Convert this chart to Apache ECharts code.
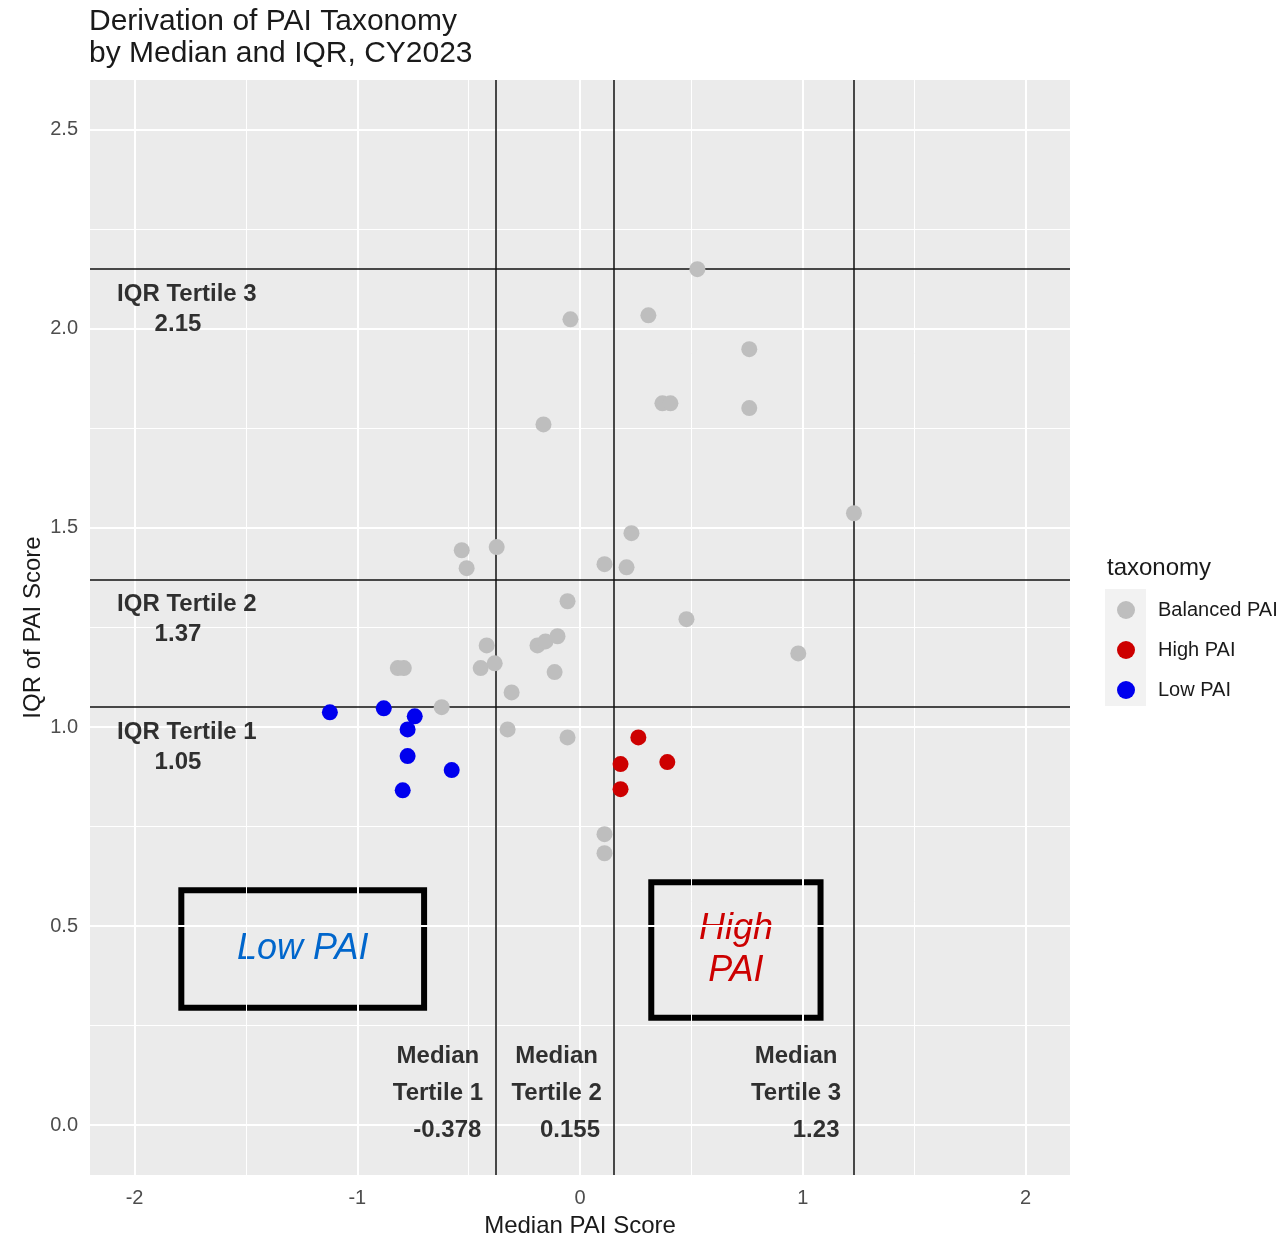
<!DOCTYPE html>
<html>
<head>
<meta charset="utf-8">
<title>Derivation of PAI Taxonomy</title>
<script src="https://cdn.jsdelivr.net/npm/echarts@6/dist/echarts.min.js"></script>
<style>
  html, body { margin: 0; padding: 0; background: #ffffff; overflow: hidden; }
  #chart { width: 1286px; height: 1238px; }
</style>
</head>
<body>
<div id="chart"></div>
<script>
// ---- data ----
const taxonomy = ['Balanced PAI', 'High PAI', 'Low PAI'];

const balancedMedian = [0.527, -0.043, 0.307, 0.760, 0.370, 0.406, 0.760, -0.164, 1.23, 0.231,
  -0.531, -0.374, -0.509, 0.110, 0.209, -0.056, 0.478, 0.980, -0.818, -0.791,
  -0.419, -0.446, -0.383, -0.191, -0.155, -0.101, -0.114, -0.307, -0.325, -0.056,
  -0.621, 0.110, 0.110];
const balancedIQR = [2.15, 2.024, 2.034, 1.949, 1.813, 1.813, 1.801, 1.760, 1.537, 1.487,
  1.444, 1.452, 1.399, 1.409, 1.401, 1.316, 1.271, 1.185, 1.148, 1.148,
  1.205, 1.148, 1.160, 1.205, 1.215, 1.228, 1.138, 1.087, 0.994, 0.974,
  1.05, 0.731, 0.683];

const highMedian = [0.262, 0.182, 0.392, 0.182];
const highIQR = [0.974, 0.907, 0.912, 0.844];

const lowMedian = [-1.123, -0.881, -0.742, -0.774, -0.774, -0.576, -0.796];
const lowIQR = [1.037, 1.047, 1.027, 0.994, 0.927, 0.892, 0.841];

// tertile cut points
const medianTertiles = [-0.378, 0.155, 1.23];
const iqrTertiles = [1.05, 1.37, 2.15];

// axis ticks
const xTicks = [-2, -1, 0, 1, 2];
const xMinorTicks = [-1.5, -0.5, 0.5, 1.5];
const yTicks = [0, 0.5, 1, 1.5, 2, 2.5];
const yMinorTicks = [0.25, 0.75, 1.25, 1.75, 2.25];

// ---- presentation ----
const FONT = '"Liberation Sans", Arial, sans-serif';
const TEXT_DARK = '#1a1a1a';
const ANNOT_COLOR = '#000000';
const colors = { 'Balanced PAI': '#BEBEBE', 'High PAI': '#CD0000', 'Low PAI': '#0000EE' };

const zip = (xs, ys) => xs.map((x, i) => [x, ys[i]]);

function lineMarks(values, key) {
  return values.map(v => ({ [key]: v }));
}

// tertile annotation labels, placed relative to each cut point
const annotationItems = [];
iqrTertiles.forEach((cut, i) => {
  annotationItems.push({ value: [-1.765, cut - 0.063], label: { formatter: 'IQR Tertile ' + (i + 1), align: 'center' } });
  annotationItems.push({ value: [-1.805, cut - 0.138], label: { formatter: String(cut), align: 'center' } });
});
medianTertiles.forEach((cut, i) => {
  annotationItems.push({ value: [cut - 0.26, 0.174], label: { formatter: 'Median', align: 'center' } });
  annotationItems.push({ value: [cut - 0.26, 0.081], label: { formatter: 'Tertile ' + (i + 1), align: 'center' } });
  annotationItems.push({ value: [cut - 0.065, -0.012], label: { formatter: String(cut), align: 'right' } });
});

const pointSeries = (name, xs, ys) => ({
  name: name,
  type: 'scatter',
  data: zip(xs, ys),
  symbol: 'circle',
  symbolSize: 16,
  itemStyle: { color: colors[name], opacity: 1 },
  z: 5,
  silent: true
});

const chart = echarts.init(document.getElementById('chart'), null, { renderer: 'canvas', width: 1286, height: 1238 });

const option = {
  animation: false,
  backgroundColor: '#ffffff',
  textStyle: { fontFamily: FONT },
  title: [
    {
      text: 'Derivation of PAI Taxonomy\nby Median and IQR, CY2023',
      left: 89, top: 6, padding: 0,
      textStyle: { fontFamily: FONT, fontSize: 30, fontWeight: 'normal', color: TEXT_DARK, lineHeight: 32 }
    },
    {
      text: 'taxonomy',
      left: 1107, top: 556, padding: 0,
      textStyle: { fontFamily: FONT, fontSize: 24, fontWeight: 'normal', color: TEXT_DARK }
    }
  ],
  legend: {
    data: taxonomy,
    orient: 'vertical',
    left: 1117, top: 600,
    padding: 0,
    itemWidth: 18, itemHeight: 18, itemGap: 20,
    icon: 'circle',
    selectedMode: false,
    formatter: name => '{t|' + name + '}',
    textStyle: {
      fontFamily: FONT, fontSize: 20, color: TEXT_DARK,
      rich: { t: { fontFamily: FONT, fontSize: 20, color: TEXT_DARK, padding: [0, 0, 0, 18] } }
    }
  },
  graphic: [
    { type: 'rect', z: -1, shape: { x: 1105, y: 589, width: 41, height: 117 }, style: { fill: '#F2F2F2' } }
  ],
  grid: {
    left: 90, right: 216, top: 80, bottom: 63,
    outerBoundsMode: 'none',
    show: true, backgroundColor: '#EBEBEB', borderWidth: 0
  },
  xAxis: {
    type: 'value', min: -2.2, max: 2.2,
    name: 'Median PAI Score', nameLocation: 'middle', nameGap: 39, nameMoveOverlap: false,
    nameTextStyle: { fontFamily: FONT, fontSize: 24, color: TEXT_DARK },
    axisLine: { show: false },
    axisTick: { show: true, customValues: xTicks, length: 7, lineStyle: { color: '#333333', width: 1.5 } },
    axisLabel: { customValues: xTicks, fontFamily: FONT, fontSize: 20, color: '#4D4D4D', margin: 13 },
    splitLine: { show: false }
  },
  yAxis: {
    type: 'value', min: -0.125, max: 2.625,
    name: 'IQR of PAI Score', nameLocation: 'middle', nameGap: 45, nameMoveOverlap: false,
    nameTextStyle: { fontFamily: FONT, fontSize: 24, color: TEXT_DARK },
    axisLine: { show: false },
    axisTick: { show: true, customValues: yTicks, length: 7, lineStyle: { color: '#333333', width: 1.5 } },
    axisLabel: { customValues: yTicks, fontFamily: FONT, fontSize: 20, color: '#4D4D4D', margin: 12,
      formatter: v => v.toFixed(1) },
    splitLine: { show: false }
  },
  series: [
    // panel grid lines
    {
      type: 'scatter', data: [], silent: true, z: 1,
      markLine: {
        silent: true, symbol: ['none', 'none'], label: { show: false },
        lineStyle: { color: '#ffffff', width: 1, type: 'solid' },
        data: lineMarks(xMinorTicks, 'xAxis').concat(lineMarks(yMinorTicks, 'yAxis'))
      }
    },
    {
      type: 'scatter', data: [], silent: true, z: 2,
      markLine: {
        silent: true, symbol: ['none', 'none'], label: { show: false },
        lineStyle: { color: '#ffffff', width: 2, type: 'solid' },
        data: lineMarks(xTicks, 'xAxis').concat(lineMarks(yTicks, 'yAxis'))
      }
    },
    pointSeries('Balanced PAI', balancedMedian, balancedIQR),
    pointSeries('High PAI', highMedian, highIQR),
    pointSeries('Low PAI', lowMedian, lowIQR),
    // tertile cut lines
    {
      type: 'scatter', data: [], silent: true, z: 8,
      markLine: {
        silent: true, symbol: ['none', 'none'], label: { show: false },
        lineStyle: { color: '#111111', width: 1.5, type: 'solid' },
        data: lineMarks(medianTertiles, 'xAxis').concat(lineMarks(iqrTertiles, 'yAxis'))
      }
    },
    // text annotations and taxonomy boxes
    {
      type: 'scatter', silent: true, z: 9,
      symbolSize: 0,
      data: annotationItems,
      label: {
        show: true, position: [0, 0], verticalAlign: 'middle',
        fontFamily: FONT, fontSize: 24, fontWeight: 'bold', color: ANNOT_COLOR
      },
      markArea: {
        silent: true,
        itemStyle: { color: 'rgba(0,0,0,0)', borderColor: '#000000', borderWidth: 6 },
        label: { show: true, position: 'inside', fontFamily: FONT, fontSize: 36, fontStyle: 'italic', lineHeight: 42 },
        data: [
          [
            { coord: [-1.79, 0.59], label: { formatter: 'Low PAI', color: '#0066CC' } },
            { coord: [-0.70, 0.295] }
          ],
          [
            { coord: [0.32, 0.61], label: { formatter: 'High\nPAI', color: '#CC0000' } },
            { coord: [1.08, 0.27] }
          ]
        ]
      }
    }
  ]
};

chart.setOption(option);
</script>
</body>
</html>
